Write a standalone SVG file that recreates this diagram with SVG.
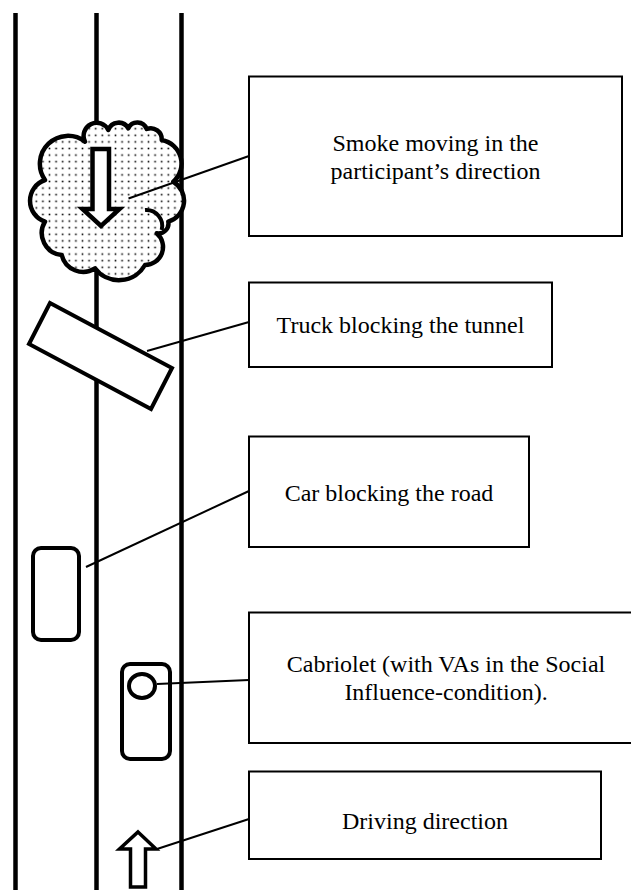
<svg xmlns="http://www.w3.org/2000/svg" width="631" height="890" viewBox="0 0 631 890">
<style>
.road{stroke:#000;stroke-width:4.5;fill:none}
.shape{stroke:#000;stroke-width:4;fill:#fff;stroke-linejoin:round}
.box{stroke:#000;stroke-width:2;fill:#fff}
.conn{stroke:#000;stroke-width:2;fill:none}
.lbl{font-family:'Liberation Serif','Times New Roman','DejaVu Serif',serif;font-size:24px;fill:#000;text-anchor:middle}
</style>
<defs>
<pattern id="dots" width="6.6" height="6.6" patternUnits="userSpaceOnUse">
<rect width="6.6" height="6.6" fill="#fff"/>
<rect x="2.5" y="2.5" width="1.6" height="1.6" fill="#000"/>
</pattern>
</defs>
<rect width="631" height="890" fill="#fff"/>
<g id="road">
<line class="road" x1="15.5" y1="13" x2="15.5" y2="890"/>
<line class="road" x1="96.5" y1="13" x2="96.5" y2="890"/>
<line class="road" x1="181.5" y1="13" x2="181.5" y2="890"/>
</g>
<g id="smoke">
<path d="M85,141.7 A13,13 0 0 1 108.3,130 A11,11 0 0 1 128.3,128.3 A10,10 0 0 1 146.7,129 A11,11 0 0 1 161.7,140 A24,24 0 0 1 173.3,181.7 A22,22 0 0 1 168.3,221.7 A10,10 0 0 1 156.7,233.3 A18,18 0 0 1 145,265 A30,30 0 0 1 95,268.3 A22,22 0 0 1 61.7,255 A22,22 0 0 1 45,221.7 A22,22 0 0 1 45,180 A28,28 0 0 1 85,141.7 Z" fill="url(#dots)" stroke="#000" stroke-width="4.5" stroke-linejoin="round"/>
<path d="M145,210 A16,16 0 0 1 161.7,230" fill="none" stroke="#000" stroke-width="4"/>
<polygon points="92.5,149 109,149 109,209 119.5,209 101,226 82.5,209 92.5,209" fill="#fff" stroke="#000" stroke-width="4.5" stroke-linejoin="miter"/>
</g>
<g id="truck">
<polygon class="shape" points="50,303 172,368 151,409 29,344" style="stroke-linejoin:miter"/>
</g>
<g id="car">
<rect class="shape" x="33" y="548" width="46" height="92" rx="8"/>
</g>
<g id="cabriolet">
<rect class="shape" x="122" y="664" width="48" height="95" rx="8"/>
<ellipse class="shape" cx="142" cy="686" rx="13" ry="12"/>
</g>
<g id="driving-arrow">
<polygon points="138,832 156,849 145.5,849 145.5,887 130.5,887 130.5,849 119.5,849" fill="#fff" stroke="#000" stroke-width="3.5" stroke-linejoin="miter"/>
</g>
<g id="connectors">
<line class="conn" x1="128.5" y1="198.5" x2="249" y2="156"/>
<line class="conn" x1="147" y1="351" x2="249" y2="322"/>
<line class="conn" x1="86" y1="567" x2="249" y2="491"/>
<line class="conn" x1="157" y1="684" x2="249" y2="680"/>
<line class="conn" x1="157" y1="849" x2="249" y2="819"/>
</g>
<g id="box-smoke">
<rect class="box" x="249" y="76.5" width="373" height="159.5"/>
<text class="lbl" x="435.5" y="151">Smoke moving in the</text>
<text class="lbl" x="435.5" y="179">participant’s direction</text>
</g>
<g id="box-truck">
<rect class="box" x="249" y="282.5" width="303" height="84.5"/>
<text class="lbl" x="400.5" y="333">Truck blocking the tunnel</text>
</g>
<g id="box-car">
<rect class="box" x="249" y="436.5" width="280" height="110.5"/>
<text class="lbl" x="389" y="501">Car blocking the road</text>
</g>
<g id="box-cabriolet">
<rect class="box" x="249" y="612.5" width="393" height="130.5"/>
<text class="lbl" x="446" y="672">Cabriolet (with VAs in the Social</text>
<text class="lbl" x="446" y="700">Influence-condition).</text>
</g>
<g id="box-driving">
<rect class="box" x="249" y="771.5" width="352" height="87.5"/>
<text class="lbl" x="425" y="829">Driving direction</text>
</g>
</svg>
